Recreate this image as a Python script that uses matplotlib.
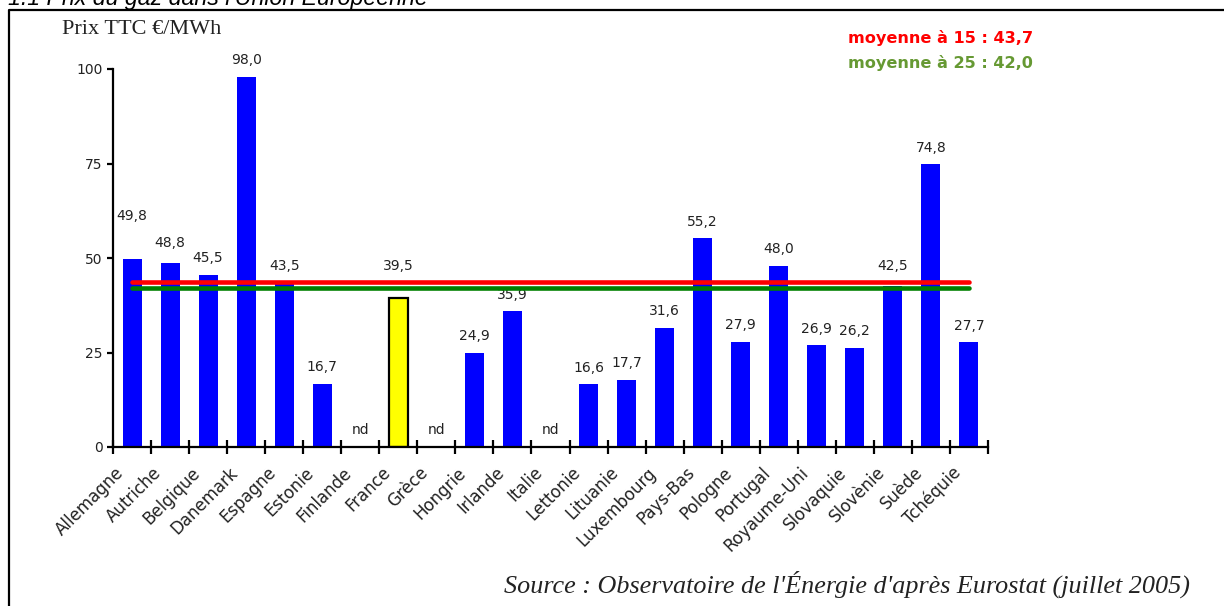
import numpy as np
import matplotlib
matplotlib.use("Agg")
import matplotlib.pyplot as plt
import matplotlib.transforms as mtransforms
from matplotlib.lines import Line2D

# Prix TTC du gaz (€/MWh) par pays ; None = non disponible
pays = ["Allemagne", "Autriche", "Belgique", "Danemark", "Espagne", "Estonie",
        "Finlande", "France", "Grèce", "Hongrie", "Irlande", "Italie",
        "Lettonie", "Lituanie", "Luxembourg", "Pays-Bas", "Pologne", "Portugal",
        "Royaume-Uni", "Slovaquie", "Slovènie", "Suède", "Tchéquie"]
prix = [49.8, 48.8, 45.5, 98.0, 43.5, 16.7,
        None, 39.5, None, 24.9, 35.9, None,
        16.6, 17.7, 31.6, 55.2, 27.9, 48.0,
        26.9, 26.2, 42.5, 74.8, 27.7]
moyenne_15 = 43.7
moyenne_25 = 42.0
graduations = [0, 25, 50, 75, 100]
pays_mis_en_avant = "France"


def fr(v):
    return f"{v:.1f}".replace(".", ",")


W, H = 1224, 606
fig = plt.figure(figsize=(W / 100, H / 100), dpi=100)
fig.patch.set_facecolor("white")
ax = fig.add_axes([113 / W, 1 - 447 / H, 875 / W, 378 / H])
ax.set_facecolor("none")

x = np.arange(len(pays))
txt_col = "#222222"

# extra lift (points) for a few value labels sitting higher above their bar
label_lift = {"Allemagne": 19, "France": 11, "Slovènie": 3, "Autriche": 2}

for xi, nom, v in zip(x, pays, prix):
    if v is None:
        ax.annotate("nd", (xi, 0), xytext=(0, 12), textcoords="offset points",
                    ha="center", va="center", fontsize=10, color=txt_col)
        continue
    if nom == pays_mis_en_avant:
        ax.bar(xi, v, width=0.5, color="#FFFF00", edgecolor="black",
               linewidth=1.6, zorder=2)
    else:
        ax.bar(xi, v, width=0.5, color="#0000FF", linewidth=0, zorder=2)
    ax.annotate(fr(v), (xi, v), xytext=(0, 12 + label_lift.get(nom, 0)),
                textcoords="offset points", ha="center", va="center",
                fontsize=10, color=txt_col)

# average lines across the member states
ax.plot([x[0], x[-1]], [moyenne_15, moyenne_15], color="#FF0000", lw=3.3,
        solid_capstyle="round", zorder=4)
ax.plot([x[0], x[-1]], [moyenne_25, moyenne_25], color="#008000", lw=3.3,
        solid_capstyle="round", zorder=4)

ax.set_xlim(-0.5, len(pays) - 0.5)
ax.set_ylim(0, 100)
for s in ("top", "right"):
    ax.spines[s].set_visible(False)
for s in ("left", "bottom"):
    ax.spines[s].set_linewidth(1.6)
    ax.spines[s].set_color("black")

# boundary ticks on the category axis, names centred between them
ax.set_xticks(np.arange(-0.5, len(pays), 1.0))
ax.set_xticklabels([])
ax.set_xticks(x, labels=pays, minor=True)
ax.tick_params(axis="x", which="major", direction="inout", length=10,
               width=1.6, color="black")
ax.tick_params(axis="x", which="minor", length=0, pad=16.5, labelsize=12,
               labelcolor=txt_col)
shift = mtransforms.ScaledTranslation(-0.11, 0, fig.dpi_scale_trans)
for lab in ax.get_xticklabels(minor=True):
    lab.set_rotation(45)
    lab.set_horizontalalignment("right")
    lab.set_verticalalignment("center")
    lab.set_rotation_mode("anchor")
    lab.set_transform(lab.get_transform() + shift)

ax.set_yticks(graduations)
ax.tick_params(axis="y", direction="out", length=4.3, width=1.6, pad=3,
               labelsize=10, labelcolor=txt_col)

# unit label above the value axis
fig.text(62 / W, 1 - 30 / H, "Prix TTC €/MWh", family="Liberation Serif",
         fontsize=16, ha="left", va="center", color=txt_col)

# averages legend
fig.text(848 / W, 1 - 38 / H, f"moyenne à 15 : {fr(moyenne_15)}",
         family="DejaVu Sans", weight="bold", fontsize=11.6, color="#FF0000",
         ha="left", va="center")
fig.text(848 / W, 1 - 63 / H, f"moyenne à 25 : {fr(moyenne_25)}",
         family="DejaVu Sans", weight="bold", fontsize=11.6, color="#669933",
         ha="left", va="center")

# source note
fig.text(1190 / W, 1 - 584 / H,
         "Source : Observatoire de l'Énergie d'après Eurostat (juillet 2005)",
         family="Liberation Serif", style="italic", fontsize=18.8,
         ha="right", va="center", color=txt_col)

# section heading, partly above the page edge
fig.text(8 / W, 1 - 5 / H, "1.1 Prix du gaz dans l'Union Européenne",
         family="Liberation Sans", style="italic", fontsize=16.7,
         ha="left", va="baseline", color="black")

# frame around the chart
fig.add_artist(Line2D([8.5 / W, 8.5 / W, 1.02], [-0.02, 1 - 9.5 / H, 1 - 9.5 / H],
                      transform=fig.transFigure, color="black", lw=1.6))

fig.savefig("out.png", dpi=100)
